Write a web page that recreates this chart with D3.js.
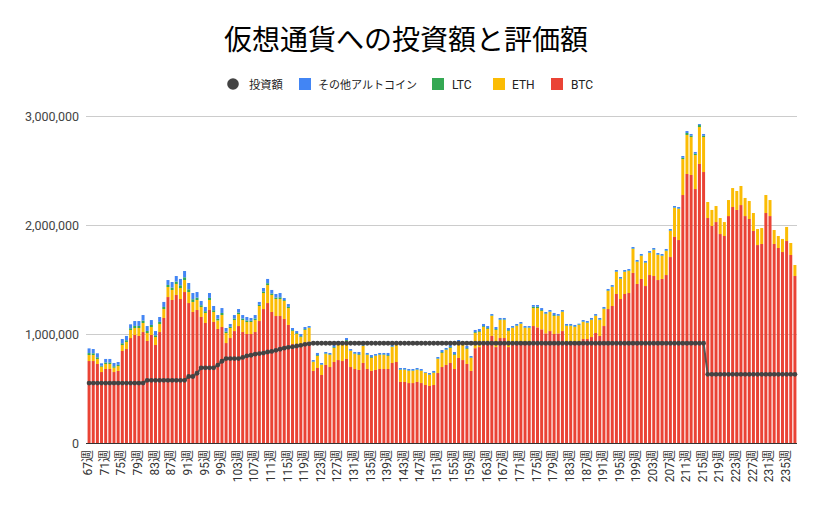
<!DOCTYPE html>
<html><head><meta charset="utf-8">
<script src="https://cdn.jsdelivr.net/npm/d3@7"></script>
<style>
html,body{margin:0;padding:0;background:#fff;}
svg{display:block;font-family:Roboto,"Noto Sans CJK JP",sans-serif;}
</style></head><body>
<svg id="c" width="822" height="508"></svg>
<script>
const weeks = [67,68,69,70,71,72,73,74,75,76,77,78,79,80,81,82,83,84,85,86,87,88,89,90,91,92,93,94,95,96,97,98,99,100,
101,102,103,104,105,106,107,108,109,110,111,112,113,114,115,116,117,118,119,120,121,122,123,124,125,126,127,128,129,130,
131,132,133,134,135,136,137,138,139,140,141,142,143,144,145,146,147,148,149,150,151,152,153,154,155,156,157,158,159,160,
161,162,163,164,165,166,167,168,169,170,171,172,173,174,175,176,177,178,179,180,181,182,183,184,185,186,187,188,189,190,
191,192,193,194,195,196,197,198,199,200,201,202,203,204,205,206,207,208,209,210,211,212,213,214,215,216,217,218,219,220,
221,222,223,224,225,226,227,228,229,230,231,232,233,234,235,236,237];

const btc = [752000,752000,725000,651000,679000,679000,651000,661000,844000,862000,
963000,991000,982000,1018000,936000,991000,899000,1018000,1147000,1339000,
1312000,1358000,1321000,1385000,1284000,1202000,1220000,1156000,1101000,1220000,
1110000,1046000,1064000,917000,963000,1027000,1073000,1018000,1000000,1000000,
1018000,1119000,1229000,1284000,1202000,1165000,1165000,1138000,1083000,908000,
890000,880000,922000,930000,661000,688000,624000,716000,697000,743000,
761000,752000,771000,697000,679000,670000,734000,679000,661000,670000,
679000,679000,679000,734000,743000,560000,560000,550000,550000,560000,
550000,532000,523000,532000,642000,697000,716000,734000,679000,780000,
761000,725000,661000,870000,880000,915000,915000,982000,880000,963000,
963000,880000,915000,915000,920000,915000,915000,1073000,1061000,1043000,
1006000,1027000,1000000,1005000,1027000,915000,915000,915000,915000,954000,
954000,972000,1009000,982000,1073000,1229000,1257000,1367000,1321000,1367000,
1376000,1560000,1459000,1505000,1440000,1541000,1532000,1495000,1505000,1541000,
1706000,1890000,1862000,2275000,2468000,2459000,2330000,2560000,2486000,2064000,
1991000,2027000,1917000,1899000,2082000,2165000,2138000,2183000,2082000,2055000,
1945000,1816000,1826000,2110000,2082000,1826000,1789000,1752000,1853000,1725000,
1532000];

const eth = [55000,55000,46000,49000,46000,46000,40000,45000,55000,65000,
74000,64000,73000,83000,73000,73000,73000,74000,82000,92000,
92000,101000,101000,110000,101000,92000,92000,92000,92000,92000,
92000,79000,110000,92000,92000,101000,110000,110000,110000,110000,
110000,138000,147000,165000,156000,156000,156000,165000,155000,119000,
110000,92000,115000,125000,82000,110000,92000,100000,110000,129000,
147000,147000,165000,147000,137000,137000,156000,128000,119000,128000,
128000,128000,119000,147000,156000,110000,110000,111000,111000,110000,
111000,110000,101000,110000,129000,129000,137000,138000,128000,137000,
147000,137000,119000,139000,138000,149000,131000,183000,157000,165000,
165000,147000,140000,158000,172000,140000,140000,165000,177000,168000,
177000,175000,165000,160000,175000,158000,158000,149000,168000,156000,
147000,156000,156000,146000,156000,165000,174000,202000,184000,202000,
202000,220000,202000,211000,211000,202000,239000,230000,211000,220000,
239000,266000,285000,330000,358000,348000,312000,339000,321000,147000,
147000,147000,147000,128000,147000,174000,174000,175000,166000,165000,
165000,147000,146000,165000,147000,128000,110000,120000,129000,110000,
101000];

const ltc = [18000,16000,15000,9000,14000,14000,13000,11000,16000,16000,
16000,19000,19000,22000,19000,19000,16000,19000,19000,19000,
22000,22000,25000,25000,25000,25000,22000,16000,16000,19000,
16000,15000,19000,14000,11000,14000,14000,14000,14000,11000,
14000,11000,14000,17000,14000,14000,16000,8000,11000,8000,
8000,8000,8000,5000,5000,8000,5000,6000,6000,8000,
8000,8000,8000,5000,6000,8000,5000,6000,8000,5000,
6000,6000,8000,5000,5000,5000,5000,5000,5000,5000,
5000,3000,5000,6000,5000,8000,6000,8000,8000,8000,
6000,8000,5000,8000,8000,8000,8000,5000,8000,6000,
6000,8000,5000,6000,5000,5000,5000,12000,12000,8000,
6000,5000,8000,5000,5000,6000,6000,6000,6000,5000,
5000,6000,5000,6000,6000,6000,5000,5000,5000,5000,
6000,5000,5000,5000,6000,5000,5000,5000,5000,6000,
5000,5000,5000,12000,18000,12000,12000,18000,12000,0,
0,0,0,0,0,0,0,0,0,0,
0,0,0,0,0,0,0,0,0,0,
0];

const others = [43000,39000,37000,22000,32000,32000,30000,26000,39000,39000,
36000,45000,45000,51000,45000,45000,39000,45000,46000,45000,
51000,51000,58000,58000,58000,57000,51000,39000,39000,45000,
39000,34000,45000,32000,26000,32000,32000,32000,32000,26000,
32000,26000,32000,39000,32000,32000,39000,19000,26000,20000,
19000,20000,19000,13000,13000,20000,13000,13000,13000,19000,
20000,20000,19000,13000,13000,20000,13000,13000,19000,13000,
13000,13000,20000,13000,13000,13000,13000,13000,13000,13000,
13000,6000,13000,13000,13000,19000,13000,19000,20000,20000,
13000,20000,13000,20000,20000,20000,19000,13000,19000,13000,
13000,20000,13000,13000,13000,13000,13000,16000,16000,19000,
13000,13000,20000,13000,13000,13000,13000,13000,6000,13000,
13000,13000,13000,13000,13000,13000,13000,13000,13000,13000,
12000,13000,13000,13000,13000,13000,13000,13000,13000,13000,
13000,13000,13000,16000,18000,16000,16000,9000,16000,0,
0,0,0,0,0,0,0,0,0,0,
0,0,0,0,0,0,0,0,0,0,
0];

const investment = [550000,550000,550000,550000,550000,550000,550000,550000,550000,550000,
550000,550000,550000,550000,575000,575000,575000,575000,575000,575000,
575000,575000,575000,575000,610000,610000,640000,690000,690000,690000,
690000,715000,750000,775000,775000,775000,775000,785000,800000,805000,
815000,820000,825000,835000,840000,850000,860000,870000,878000,882000,
890000,896000,905000,910000,915000,915000,915000,915000,915000,915000,
915000,915000,915000,915000,915000,915000,915000,915000,915000,915000,
915000,915000,915000,915000,915000,915000,915000,915000,915000,915000,
915000,915000,915000,915000,915000,915000,915000,915000,915000,915000,
915000,915000,915000,915000,915000,915000,915000,915000,915000,915000,
915000,915000,915000,915000,915000,915000,915000,915000,915000,915000,
915000,915000,915000,915000,915000,915000,915000,915000,915000,915000,
915000,915000,915000,915000,915000,915000,915000,915000,915000,915000,
915000,915000,915000,915000,915000,915000,915000,915000,915000,915000,
915000,915000,915000,915000,915000,915000,915000,915000,915000,630000,
630000,630000,630000,630000,630000,630000,630000,630000,630000,630000,
630000,630000,630000,630000,630000,630000,630000,630000,630000,630000,
630000];

const xTickWeeks = [67,71,75,79,83,87,91,95,99,103,107,111,115,119,123,127,131,135,139,143,147,151,155,159,163,167,171,175,179,183,187,191,195,199,203,207,211,215,219,223,227,231,235];
const yTicks = [0,1000000,2000000,3000000];
const legendLabels = ["投資額","その他アルトコイン","LTC","ETH","BTC"];
const stackKeys = ["BTC","ETH","LTC","OTH"];
const colors = {BTC:"#ea4335", ETH:"#fbbc04", LTC:"#34a853", OTH:"#4285f4", INV:"#434343"};
const title = "仮想通貨への投資額と評価額";

const svg = d3.select("#c");
svg.append("rect").attr("width",822).attr("height",508).attr("fill","#fff");

const x = d3.scaleBand().domain(weeks).range([87,797]).paddingInner(0.28).paddingOuter(0.14);
const y = d3.scaleLinear().domain([0,3000000]).range([443,116]);

// gridlines
svg.append("g").selectAll("line").data(yTicks.filter(d=>d>0)).join("line")
  .attr("x1",86).attr("x2",797).attr("y1",d=>Math.round(y(d))+0.5).attr("y2",d=>Math.round(y(d))+0.5)
  .attr("stroke","#cccccc").attr("stroke-width",1);

// y axis labels
const yAxis = d3.axisLeft(y).tickValues(yTicks).tickFormat(d3.format(",")).tickSize(0).tickPadding(7);
const yg = svg.append("g").attr("transform","translate(86,0)").call(yAxis);
yg.select(".domain").remove();
yg.selectAll("text").attr("font-size","12.5px").attr("fill","#444").attr("font-family","Roboto, sans-serif");

// stacked bars
const table = weeks.map((w,i)=>({week:w, BTC:btc[i], ETH:eth[i], LTC:ltc[i], OTH:others[i]}));
const stacked = d3.stack().keys(stackKeys)(table);
svg.append("g").selectAll("g").data(stacked).join("g")
  .attr("fill",d=>colors[d.key])
  .selectAll("rect").data(d=>d).join("rect")
  .attr("x",d=>x(d.data.week))
  .attr("width",x.bandwidth())
  .attr("y",d=>y(d[1]))
  .attr("height",d=>Math.max(0,y(d[0])-y(d[1])));

// baseline
svg.append("line").attr("x1",86).attr("x2",797).attr("y1",443.5).attr("y2",443.5)
  .attr("stroke","#333").attr("stroke-width",1);

// investment line
const invData = weeks.map((w,i)=>({week:w, v:investment[i]}));
const line = d3.line().x(d=>x(d.week)+x.bandwidth()/2).y(d=>y(d.v));
svg.append("path").datum(invData).attr("d",line).attr("fill","none")
  .attr("stroke","#555").attr("stroke-width",2);
svg.append("g").selectAll("circle").data(invData).join("circle")
  .attr("cx",d=>x(d.week)+x.bandwidth()/2).attr("cy",d=>y(d.v)).attr("r",2.4)
  .attr("fill",colors.INV);

// x labels
svg.append("g").selectAll("text").data(xTickWeeks).join("text")
  .attr("transform",d=>`translate(${x(d)+x.bandwidth()/2-1},450) rotate(-90)`)
  .attr("text-anchor","end").attr("dy","0.35em")
  .attr("font-size","12px").attr("fill","#333")
  .text(d=>d+"週");

// legend
const legendPos = [
  {sym:"circle", sx:233, tx:249, color:colors.INV, fs:"11.3px"},
  {sym:"rect", sx:299, tx:318, color:colors.OTH, fs:"11px"},
  {sym:"rect", sx:432, tx:452, color:colors.LTC, fs:"12px"},
  {sym:"rect", sx:493, tx:512, color:colors.ETH, fs:"12px"},
  {sym:"rect", sx:551, tx:571, color:colors.BTC, fs:"12px"}
];
const lg = svg.append("g");
legendPos.forEach((p,i)=>{
  if(p.sym==="circle"){
    lg.append("circle").attr("cx",p.sx).attr("cy",84).attr("r",5.8).attr("fill",p.color);
  } else {
    lg.append("rect").attr("x",p.sx).attr("y",78).attr("width",12).attr("height",12).attr("fill",p.color);
  }
  lg.append("text").attr("x",p.tx).attr("y",88.5).attr("font-size",p.fs).attr("fill","#222")
    .text(legendLabels[i]);
});

// title
svg.append("text").attr("x",406).attr("y",50).attr("text-anchor","middle")
  .attr("font-size","28px").attr("fill","#000").attr("font-family",'"Noto Sans CJK JP", sans-serif')
  .text(title);
</script>
</body></html>
